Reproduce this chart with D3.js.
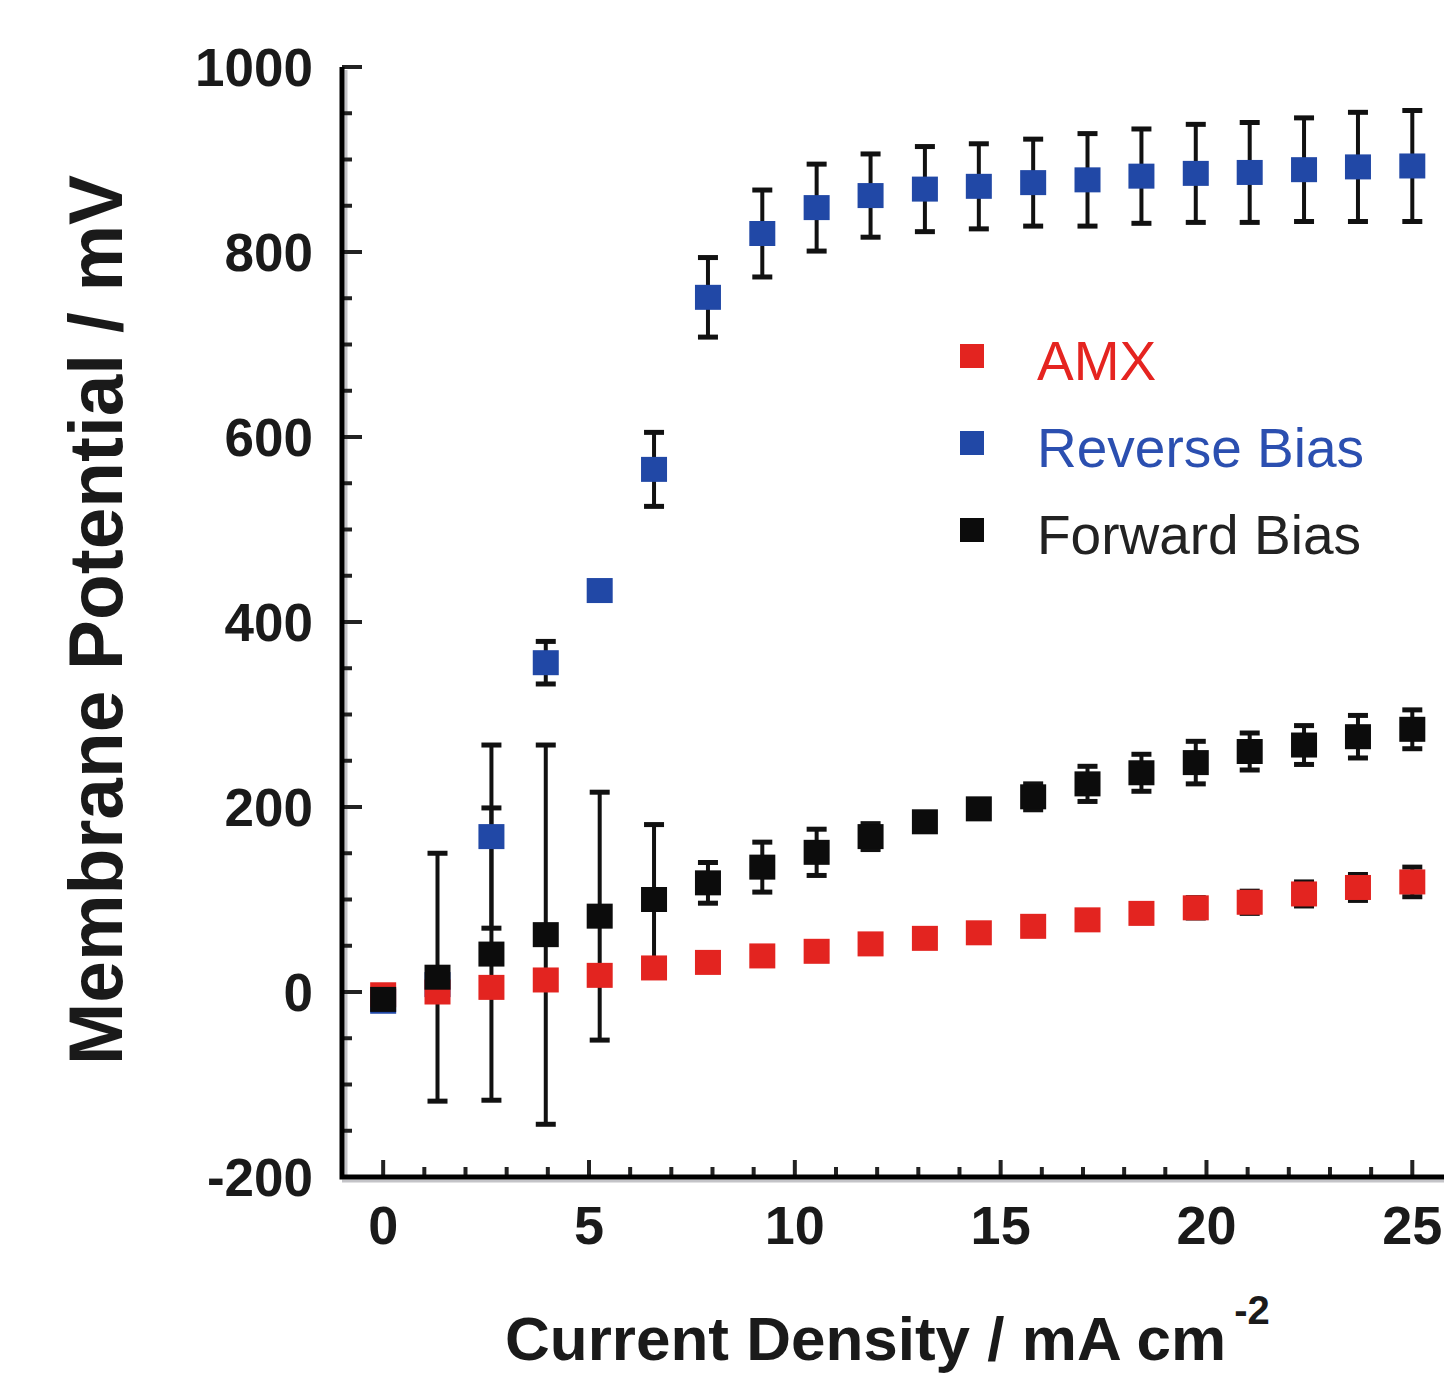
<!DOCTYPE html>
<html>
<head>
<meta charset="utf-8">
<script src="https://cdn.jsdelivr.net/npm/d3@7"></script>
<style>
  body { margin: 0; background: #fff; }
  svg { display: block; font-family: "Liberation Sans", Arial, sans-serif; }
</style>
</head>
<body>
<script>
/* ==== data ==== */
var currentDensity = [0, 1.32, 2.63, 3.95, 5.26, 6.58, 7.89, 9.21, 10.53, 11.84,
  13.16, 14.47, 15.79, 17.11, 18.42, 19.74, 21.05, 22.37, 23.68, 25];

var amx = [-3, 0, 5, 13, 18, 26, 32, 39, 44, 52, 58, 64, 71, 78, 85, 91, 97, 106, 113, 119];
var amxErr = [0, 0, 0, 0, 0, 0, 0, 0, 0, 0, 0, 2, 4, 8, 10, 11, 12, 13, 14, 16];

var reverseBias = [-10, 8, 168, 356, 434, 565, 751, 820, 848, 861, 868, 871, 875, 878, 882, 885, 886, 889, 892, 893];
var reverseErr = [0, 0, 99, 23, 0, 40, 43, 47, 47, 45, 46, 46, 47, 50, 51, 53, 54, 56, 59, 60];

var forwardBias = [-8, 16, 41, 62, 82, 100, 118, 135, 151, 168, 184, 198, 211, 225, 237, 248, 260, 267, 276, 284];
var forwardErr = [0, 134, 158, 205, 134, 81, 22, 27, 25, 14, 5, 8, 14, 19, 20, 23, 20, 21, 23, 21];

var yTickLabels = [-200, 0, 200, 400, 600, 800, 1000];
var xTickLabels = [0, 5, 10, 15, 20, 25];

var seriesNames = ["AMX", "Reverse Bias", "Forward Bias"];
var seriesColors = ["#e32420", "#2148a6", "#0c0c0c"];
var legendTextColors = ["#e52420", "#2b4fb0", "#222222"];

/* ==== canvas ==== */
var width = 1444, height = 1375;
var svg = d3.select("body").append("svg")
  .attr("width", width)
  .attr("height", height);

var x = d3.scaleLinear().domain([-1, 25.77]).range([342, 1444]);
var y = d3.scaleLinear().domain([-200, 1000]).range([1177, 67]);

// build point rows for each series
function rows(vals, errs, k) {
  return vals.map(function(v, i) {
    return { x: currentDensity[i], y: v, e: errs[i], s: k };
  });
}
var amxPts = rows(amx, amxErr, 0);
var revPts = rows(reverseBias, reverseErr, 1);
var fwdPts = rows(forwardBias, forwardErr, 2);

/* ==== axes ==== */
// soft gray edge next to the axis lines, like the scanned figure
svg.append("line")
  .attr("x1", 346).attr("x2", 346).attr("y1", 70).attr("y2", 1177)
  .style("stroke", "#c4c4c8").style("stroke-width", 3);
svg.append("line")
  .attr("x1", 342).attr("x2", 1444).attr("y1", 1181).attr("y2", 1181)
  .style("stroke", "#c4c4c8").style("stroke-width", 3);

// y ticks: every 50, longer on the labelled ones
var yTicks = d3.range(-200, 1001, 50);
svg.selectAll(".ytick")
  .data(yTicks)
  .enter().append("line")
  .attr("class", "ytick")
  .attr("x1", 342)
  .attr("x2", function(d) { return d % 200 === 0 ? 362 : 352; })
  .attr("y1", function(d) { return y(d); })
  .attr("y2", function(d) { return y(d); })
  .style("stroke", "#222")
  .style("stroke-width", 4);

// x ticks: every 1, longer every 5
var xTicks = d3.range(0, 26, 1);
svg.selectAll(".xtick")
  .data(xTicks)
  .enter().append("line")
  .attr("class", "xtick")
  .attr("x1", function(d) { return x(d); })
  .attr("x2", function(d) { return x(d); })
  .attr("y1", 1177)
  .attr("y2", function(d) { return d % 5 === 0 ? 1160 : 1167; })
  .style("stroke", "#222")
  .style("stroke-width", 4);

svg.append("path")
  .attr("d", "M342," + y(1000) + "V1177H1444")
  .style("fill", "none")
  .style("stroke", "#000")
  .style("stroke-width", 5);

svg.selectAll(".ylab")
  .data(yTickLabels)
  .enter().append("text")
  .attr("class", "ylab")
  .attr("x", 313)
  .attr("y", function(d) { return y(d) + 19; })
  .attr("text-anchor", "end")
  .style("font-size", "53px")
  .style("font-weight", "bold")
  .style("fill", "#1a1a1a")
  .text(function(d) { return d; });

svg.selectAll(".xlab")
  .data(xTickLabels)
  .enter().append("text")
  .attr("class", "xlab")
  .attr("x", function(d) { return x(d); })
  .attr("y", 1244)
  .attr("text-anchor", "middle")
  .style("font-size", "54px")
  .style("font-weight", "bold")
  .style("fill", "#1a1a1a")
  .text(function(d) { return d; });

// axis titles
svg.append("text")
  .attr("transform", "translate(122,620) rotate(-90)")
  .attr("text-anchor", "middle")
  .attr("textLength", 890)
  .attr("lengthAdjust", "spacingAndGlyphs")
  .style("font-size", "76px")
  .style("font-weight", "bold")
  .style("fill", "#1a1a1a")
  .text("Membrane Potential / mV");

var xt = svg.append("text")
  .attr("x", 505)
  .attr("y", 1360)
  .style("font-size", "62px")
  .style("font-weight", "bold")
  .style("fill", "#1a1a1a");
xt.append("tspan").text("Current Density / mA cm");
xt.append("tspan")
  .attr("dx", 8)
  .attr("dy", -36)
  .style("font-size", "40px")
  .text("-2");

/* ==== error bars ==== */
var allPts = fwdPts.concat(amxPts).concat(revPts).filter(function(d) { return d.e > 0; });
var eb = svg.selectAll(".err")
  .data(allPts)
  .enter().append("g")
  .attr("class", "err");
eb.append("line")
  .attr("x1", function(d) { return x(d.x); })
  .attr("x2", function(d) { return x(d.x); })
  .attr("y1", function(d) { return y(d.y + d.e); })
  .attr("y2", function(d) { return y(d.y - d.e); })
  .style("stroke", "#111")
  .style("stroke-width", 4);
eb.selectAll(".cap")
  .data(function(d) { return [d.y + d.e, d.y - d.e].map(function(v) { return { x: d.x, v: v }; }); })
  .enter().append("line")
  .attr("class", "cap")
  .attr("x1", function(d) { return x(d.x) - 10; })
  .attr("x2", function(d) { return x(d.x) + 10; })
  .attr("y1", function(d) { return y(d.v); })
  .attr("y2", function(d) { return y(d.v); })
  .style("stroke", "#111")
  .style("stroke-width", 5);

/* ==== markers ==== */
var size = 25;
function drawSquares(pts) {
  svg.append("g").selectAll("rect")
    .data(pts)
    .enter().append("rect")
    .attr("x", function(d) { return x(d.x) - 13; })
    .attr("y", function(d) { return y(d.y) - size / 2; })
    .attr("width", 26)
    .attr("height", size)
    .style("fill", function(d) { return seriesColors[d.s]; });
}
drawSquares(revPts);
drawSquares(amxPts);
drawSquares(fwdPts);

/* ==== legend ==== */
var legend = svg.selectAll(".legend")
  .data(seriesNames)
  .enter().append("g")
  .attr("class", "legend")
  .attr("transform", function(d, i) { return "translate(0," + (356 + i * 87) + ")"; });
legend.append("rect")
  .attr("x", 960)
  .attr("y", -12)
  .attr("width", 24)
  .attr("height", 24)
  .style("fill", function(d, i) { return seriesColors[i]; });
legend.append("text")
  .attr("x", 1037)
  .attr("y", 24)
  .style("font-size", "55px")
  .style("fill", function(d, i) { return legendTextColors[i]; })
  .text(function(d) { return d; });
</script>
</body>
</html>
